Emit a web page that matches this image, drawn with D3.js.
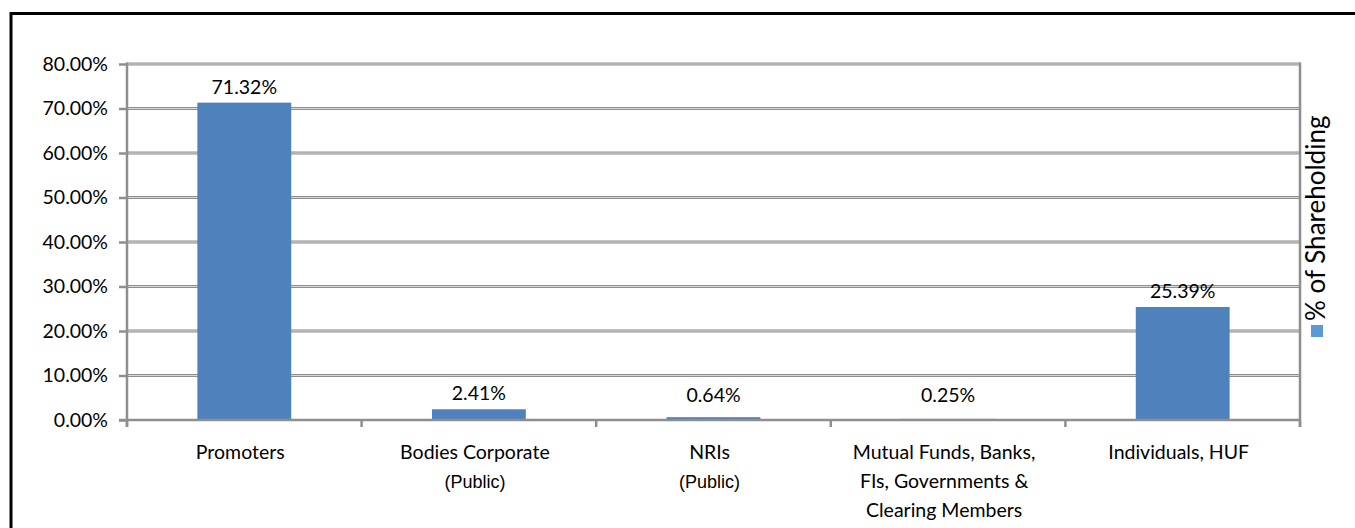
<!DOCTYPE html>
<html>
<head>
<meta charset="utf-8">
<script src="https://cdn.jsdelivr.net/npm/d3@7"></script>
<style>
  html, body { margin: 0; padding: 0; background: #fff; }
  svg { display: block; }
  text { font-family: Lato, "Open Sans", sans-serif; fill: #000; }
</style>
</head>
<body>
<svg id="chart" width="1355" height="528"></svg>
<script>
// ---- data ----
const categories = ["Promoters", "Bodies Corporate", "NRIs", "Mutual Funds, Banks,", "Individuals, HUF"];
const categoryLines = [
  ["Promoters"],
  ["Bodies Corporate", "(Public)"],
  ["NRIs", "(Public)"],
  ["Mutual Funds, Banks,", "FIs, Governments &", "Clearing Members"],
  ["Individuals, HUF"]
];
const values = [71.32, 2.41, 0.64, 0.25, 25.39];
const yTicks = [0, 10, 20, 30, 40, 50, 60, 70, 80];
const seriesName = "% of Shareholding";

// ---- layout ----
const svg = d3.select("#chart");
const pLeft = 127, pRight = 1300, pTop = 64, pBottom = 420;
const FS = "19.5px";

const x = d3.scaleBand().domain(d3.range(categories.length)).range([pLeft, pRight])
  .paddingInner(0.6).paddingOuter(0.3);
const xb = d3.scaleBand().domain(d3.range(categories.length)).range([pLeft, pRight]).padding(0);
const y = d3.scaleLinear().domain([0, 80]).range([pBottom, pTop]);

// outer border (top + left)
svg.append("line").attr("x1", 10).attr("x2", 1355).attr("y1", 13.5).attr("y2", 13.5)
  .attr("stroke", "#000").attr("stroke-width", 3);
svg.append("line").attr("x1", 11).attr("x2", 11).attr("y1", 12).attr("y2", 528)
  .attr("stroke", "#000").attr("stroke-width", 3);

// gridlines
const grid = svg.append("g");
yTicks.filter(t => t > 0).forEach(t => {
  grid.append("line").attr("x1", pLeft).attr("x2", pRight).attr("y1", y(t)).attr("y2", y(t))
    .attr("stroke", "#8e8e8e").attr("stroke-width", 3);
  grid.append("line").attr("x1", pLeft).attr("x2", pRight).attr("y1", y(t)).attr("y2", y(t))
    .attr("stroke", "#d8d8d8").attr("stroke-width", 1);
});

// right border of plot
svg.append("line").attr("x1", pRight).attr("x2", pRight).attr("y1", pTop - 1.5).attr("y2", pBottom + 7)
  .attr("stroke", "#8e8e8e").attr("stroke-width", 2.5);

// bars
svg.append("g").selectAll("rect").data(values).join("rect")
  .attr("x", (d, i) => x(i))
  .attr("width", x.bandwidth())
  .attr("y", d => y(d))
  .attr("height", d => Math.max(0, y(0) - y(d)))
  .attr("fill", "#4f81bd");

// y axis
const yAxis = d3.axisLeft(y).tickValues(yTicks).tickSize(8).tickPadding(11)
  .tickFormat(d => d.toFixed(2) + "%");
const gy = svg.append("g").attr("transform", `translate(${pLeft},0)`).call(yAxis);
gy.select(".domain").attr("stroke", "#8e8e8e").attr("stroke-width", 2.5)
  .attr("d", `M0,${pTop - 1.5}V${pBottom + 7}`);
gy.selectAll(".tick line").attr("stroke", "#8e8e8e").attr("stroke-width", 2.5);
gy.selectAll(".tick text").style("font-family", "Lato, sans-serif").style("font-size", FS).attr("fill", "#000");

// x axis
const xAxis = d3.axisBottom(xb).tickSize(0).tickFormat("");
const gx = svg.append("g").attr("transform", `translate(0,${pBottom})`).call(xAxis);
gx.select(".domain").attr("stroke", "#8e8e8e").attr("stroke-width", 2.5)
  .attr("d", `M${pLeft - 8},0H${pRight}`);
// boundary ticks
const bounds = d3.range(categories.length + 1).map(i => i < categories.length ? xb(i) : pRight);
gx.selectAll(".bt").data(bounds).join("line").attr("class", "bt")
  .attr("x1", d => d).attr("x2", d => d).attr("y1", 0).attr("y2", 7)
  .attr("stroke", "#8e8e8e").attr("stroke-width", 2.5);

// category labels
const cl = svg.append("g");
categoryLines.forEach((lines, i) => {
  const cx = xb(i) + xb.bandwidth() / 2 - 4;
  lines.forEach((ln, j) => {
    const isPublic = ln === "(Public)";
    cl.append("text").attr("x", cx).attr("y", 459 + j * 29)
      .attr("text-anchor", "middle")
      .style("font-family", isPublic ? "'Liberation Sans', Arial, sans-serif" : "Lato, sans-serif")
      .style("font-size", isPublic ? "18px" : FS)
      .text(ln);
  });
});

// data labels
svg.append("g").selectAll("text").data(values).join("text")
  .attr("x", (d, i) => x(i) + x.bandwidth() / 2)
  .attr("y", d => Math.min(y(d) - 9, y(0) - 18))
  .attr("text-anchor", "middle")
  .style("font-size", FS)
  .text(d => d.toFixed(2) + "%");

// legend
const lg = svg.append("g");
lg.append("rect").attr("x", 1311).attr("y", 325).attr("width", 12).attr("height", 12).attr("fill", "#5b9bd5");
lg.append("text").attr("transform", "translate(1316,321) rotate(-90)")
  .attr("dy", "0.35em")
  .style("font-size", "26px")
  .text(seriesName);
</script>
</body>
</html>
